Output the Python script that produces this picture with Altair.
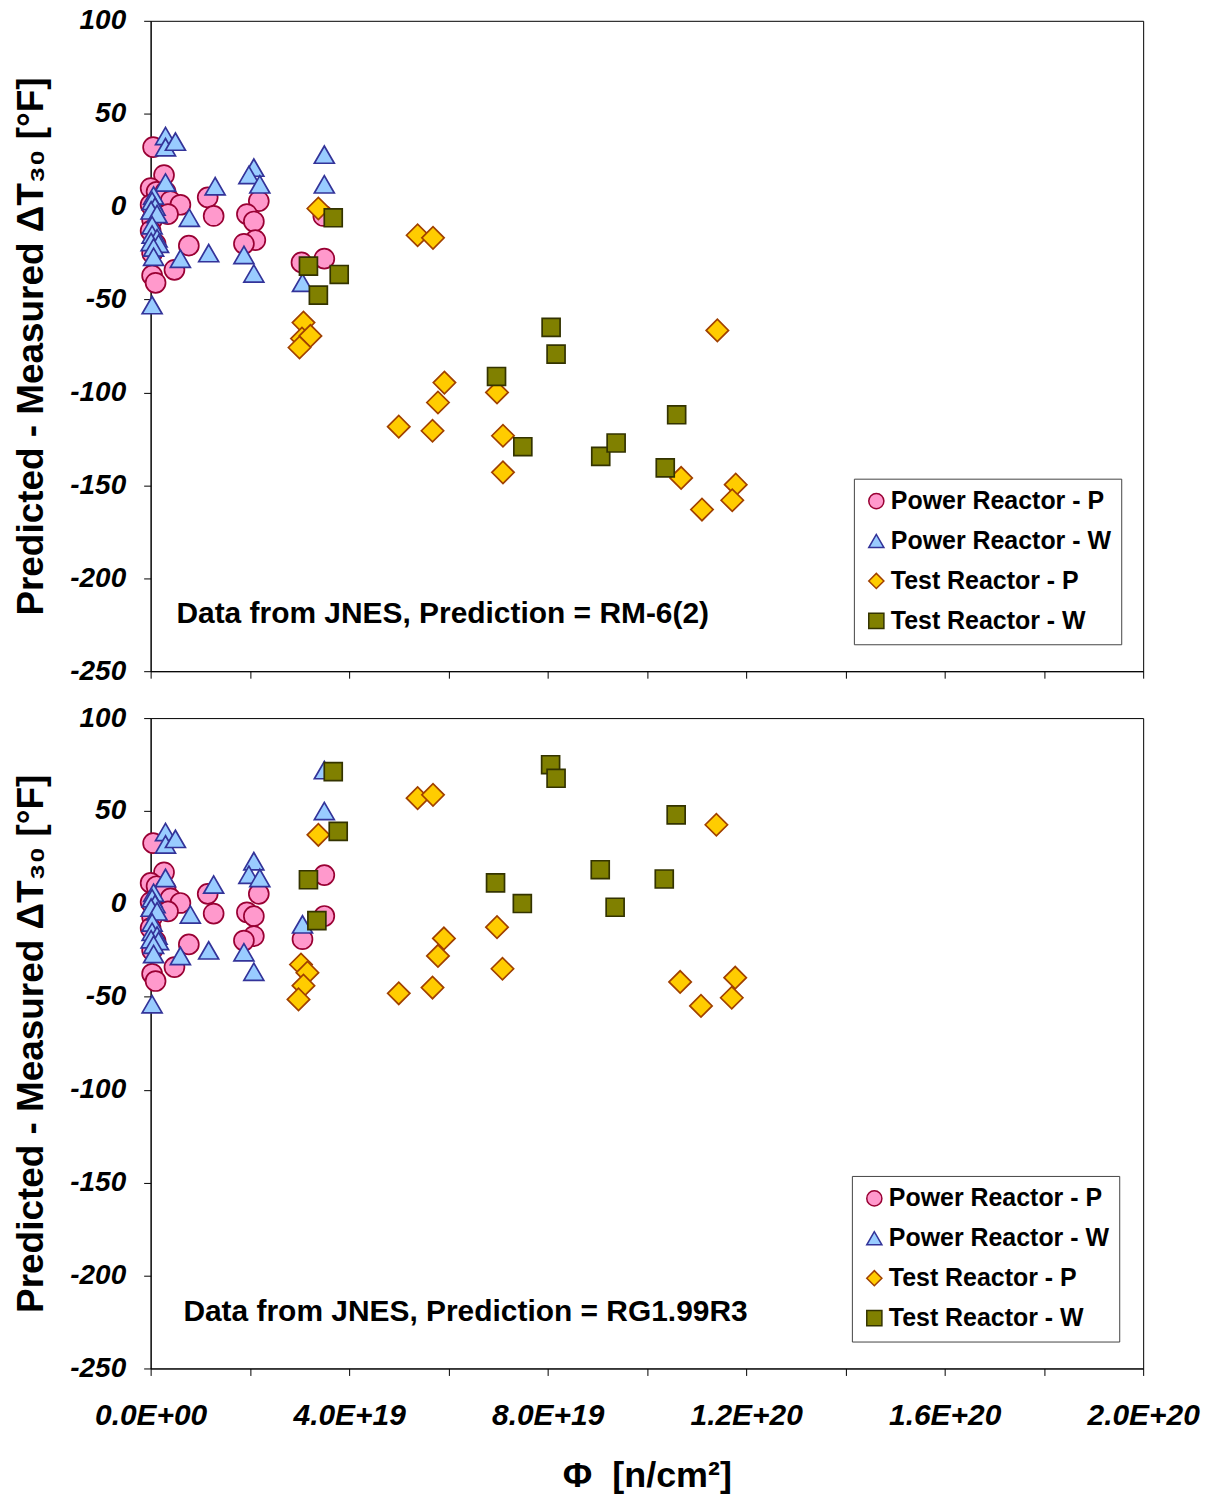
import altair as alt
import pandas as pd

SERIES = ["Power Reactor - P", "Power Reactor - W", "Test Reactor - P", "Test Reactor - W"]
SHAPES = ["circle", "triangle-up", "diamond", "square"]
FILLS = ["#FF99CC", "#99CCFF", "#FFCC00", "#808000"]
STROKES = ["#990033", "#333399", "#A04000", "#333300"]
SIZES = [400, 400, 500, 324]

# fluence x in units of 1e18 n/cm^2, y in degF
# ---------- top panel (RM-6(2)) ----------
TOP_PP_X = [0.5, 2.7, 0.0, 1.2, 3.0, 4.0, 6.0, 11.5, 12.7, 0.0, 3.5, 0.3, 0.0, 1.0, 0.3,
            7.7, 4.8, 0.3, 1.0, 21.8, 19.4, 20.8, 21.1, 18.8, 30.4, 35.0, 34.8]
TOP_PP_Y = [32, 17, 10, 8, 8, 3, 1, 5, -5, 1, -4, -7, -13, -20, -25,
            -21, -34, -37, -41, 3, -4, -8, -18, -20, -30, -28, -5]
TOP_PW_X = [3.0, 3.0, 5.0, 3.0, 13.0, 20.8, 19.8, 22.0, 7.8, 11.7, 18.8, 20.8, 6.0, 0.3,
            0.6, 0.3, 0.9, 0.1, 1.3, 0.3, 0.3, 1.3, 0.1, 1.6, 0.6, 0.6, 35.0, 35.0, 30.6]
TOP_PW_Y = [38, 32, 35, 13, 11, 21, 17, 12, -6, -25, -26, -36, -28, -53,
            6, 3, 0, -2, -4, -10, -15, -17, -19, -20, -22, -27, 28, 12, -41]
TOP_TP_X = [33.8, 53.8, 56.9, 30.8, 30.5, 32.2, 30.0, 59.2, 57.9, 50.0, 56.8, 69.8, 71.0,
            71.0, 114.2, 106.9, 117.9, 117.2, 111.1]
TOP_TP_Y = [-1, -15.4, -16.8, -62.4, -71, -69.6, -75.8, -94.7, -105.4, -118.4, -120.6, -100,
            -123.3, -143, -66.6, -146, -149.6, -158, -163]
TOP_TW_X = [36.8, 31.8, 33.8, 38.0, 80.7, 81.7, 69.7, 75.0, 90.7, 93.8, 103.7, 106.0]
TOP_TW_Y = [-6, -32, -47.6, -36.5, -65, -79.4, -91.4, -129.2, -134.4, -127.2, -140.6, -112]

# ---------- bottom panel (RG1.99R3) ----------
BOT_PP_X = [0.5, 2.7, 0.0, 1.2, 3.0, 4.0, 6.0, 11.5, 12.7, 0.0, 3.5, 0.3, 0.0, 1.0, 0.3,
            7.7, 4.8, 0.3, 1.0, 21.8, 19.4, 20.8, 20.8, 18.8, 30.6, 35.0, 35.0]
BOT_PP_Y = [32.7, 17, 11.3, 9.5, 8, 3, 0.5, 5.4, -5.2, 1, -4, -7, -13, -20, -25,
            -21.8, -34, -37.6, -41.5, 5.4, -4.5, -6.6, -17.3, -19.7, -19, 15.5, -6.5]
BOT_PW_X = [3.0, 3.0, 5.0, 3.0, 12.7, 20.8, 19.8, 22.0, 8.0, 11.7, 18.8, 20.8, 6.0, 0.3,
            0.6, 0.3, 0.9, 0.1, 1.3, 0.3, 0.3, 1.3, 0.1, 1.6, 0.6, 0.6, 35.0, 35.0, 30.6]
BOT_PW_Y = [38.7, 32, 35, 14, 10.4, 23, 15.7, 14, -5.7, -25, -26, -36.5, -28, -54,
            6, 3, 0, -2, -4, -10, -15, -17, -19, -20, -22, -27, 72, 50, -11]
BOT_TP_X = [33.8, 53.8, 56.9, 30.3, 31.6, 30.8, 29.8, 59.1, 57.9, 50.0, 56.8, 69.8, 70.9,
            114.0, 106.7, 110.9, 117.8, 117.1]
BOT_TP_Y = [37.2, 56.9, 58.7, -32.6, -37, -44, -51.4, -18.6, -28, -48.1, -45, -12.5, -34.9,
            42.6, -42, -54.9, -39.7, -50.5]
BOT_TW_X = [36.8, 37.8, 31.8, 33.5, 80.6, 81.7, 69.5, 74.9, 90.6, 93.6, 103.5, 105.9]
BOT_TW_Y = [71.2, 39, 13, -9, 74.9, 67.6, 11.3, 0.2, 18.4, -1.8, 13.4, 47.9]

NOTE_TEXT = ["Data from JNES, Prediction = RM-6(2)", "Data from JNES, Prediction = RG1.99R3"]
NOTE_X = [5.2, 6.6]
NOTE_Y = [-219, -219.5]

X_TICKS = [0, 20, 40, 60, 80, 100, 120, 140, 160, 180, 200]
X_TICK_LABELS = ["0.0E+00", "", "4.0E+19", "", "8.0E+19", "", "1.2E+20", "", "1.6E+20", "", "2.0E+20"]
Y_TICKS = [-250, -200, -150, -100, -50, 0, 50, 100]

W, H = 995, 652


def make_df(groups):
    rows = []
    for i, (xs, ys) in enumerate(groups):
        for x, y in zip(xs, ys):
            rows.append({"x": x, "y": y, "series": SERIES[i]})
    return pd.DataFrame(rows)


top_df = make_df([(TOP_PP_X, TOP_PP_Y), (TOP_PW_X, TOP_PW_Y), (TOP_TP_X, TOP_TP_Y), (TOP_TW_X, TOP_TW_Y)])
bot_df = make_df([(BOT_PP_X, BOT_PP_Y), (BOT_PW_X, BOT_PW_Y), (BOT_TP_X, BOT_TP_Y), (BOT_TW_X, BOT_TW_Y)])

label_expr = ""
for v, lab in zip(X_TICKS, X_TICK_LABELS):
    label_expr += f"datum.value == {v} ? '{lab}' : "
label_expr += "''"

FONT = "Liberation Sans"


def y_axis():
    return alt.Axis(
        values=Y_TICKS, labelExpr="toString(datum.value)",
        title="Predicted - Measured \u0394T\u2083\u2080 [\u00b0F]",
        titleFont=FONT, titleFontSize=37, titleFontWeight="bold", titleColor="black",
        titleX=-119, titleY=H / 2, titleAlign="center", titleBaseline="middle", titleAngle=270,
        labelFont=FONT, labelFontSize=28, labelFontStyle="italic", labelFontWeight="bold",
        labelColor="black", labelPadding=18, tickSize=7, tickColor="black",
        domainColor="black", grid=False,
    )


def x_axis(show):
    if show:
        return alt.Axis(
            values=X_TICKS, labelExpr=label_expr, labelOverlap=False, labelFlush=False,
            title="\u03a6\u00a0\u00a0[n/cm\u00b2]", titleFont=FONT, titleFontSize=36,
            titleFontWeight="bold", titleColor="black", titlePadding=28,
            labelFont="Liberation Sans Narrow, Liberation Sans", labelFontSize=30,
            labelFontStyle="italic", labelFontWeight="bold", labelColor="black",
            labelPadding=25, tickSize=7, tickColor="black", domainColor="black", grid=False,
        )
    return alt.Axis(values=X_TICKS, labels=False, title=None, tickSize=7,
                    tickColor="black", domainColor="black", grid=False)


def panel(df, idx, show_x):
    leg = alt.Legend(
        title=None, direction="vertical", orient="none", legendX=705 - 2 * idx, legendY=459,
        labelFont=FONT, labelFontSize=25, labelFontWeight="bold", labelColor="black",
        labelLimit=500, symbolSize=230, symbolStrokeWidth=1.5,
        strokeColor="#444444", fillColor="white", padding=10, rowPadding=14, labelOffset=2,
    )
    xs = alt.Scale(domain=[0, 200], nice=False, zero=False)
    ys = alt.Scale(domain=[-250, 100], nice=False, zero=False)
    layers = []
    for i, s in enumerate(SERIES):
        layers.append(
            alt.Chart(df).transform_filter(alt.datum.series == s)
            .mark_point(filled=True, opacity=1, strokeWidth=1.7, size=SIZES[i])
            .encode(
                x=alt.X("x:Q", scale=xs, axis=x_axis(show_x)),
                y=alt.Y("y:Q", scale=ys, axis=y_axis()),
                shape=alt.Shape("series:N", scale=alt.Scale(domain=SERIES, range=SHAPES), legend=leg),
                fill=alt.Fill("series:N", scale=alt.Scale(domain=SERIES, range=FILLS), legend=leg),
                stroke=alt.Stroke("series:N", scale=alt.Scale(domain=SERIES, range=STROKES), legend=leg),
            )
        )
    note_df = pd.DataFrame({"x": [NOTE_X[idx]], "y": [NOTE_Y[idx]], "t": [NOTE_TEXT[idx]]})
    note = alt.Chart(note_df).mark_text(
        align="left", baseline="middle", font=FONT, fontSize=30, fontWeight="bold", color="black"
    ).encode(x="x:Q", y="y:Q", text="t:N")
    return alt.layer(*layers, note).properties(width=W, height=H)


chart = alt.vconcat(
    panel(top_df, 0, False), panel(bot_df, 1, True), spacing=47, bounds="flush"
).resolve_scale(
    shape="independent", fill="independent", stroke="independent"
).resolve_legend(
    shape="independent", fill="independent", stroke="independent"
).properties(
    padding={"left": 12, "top": 4, "right": 10, "bottom": 5}
).configure_view(stroke="black", strokeWidth=1)

chart.save("out.html", embed_options={"renderer": "svg", "actions": False})
